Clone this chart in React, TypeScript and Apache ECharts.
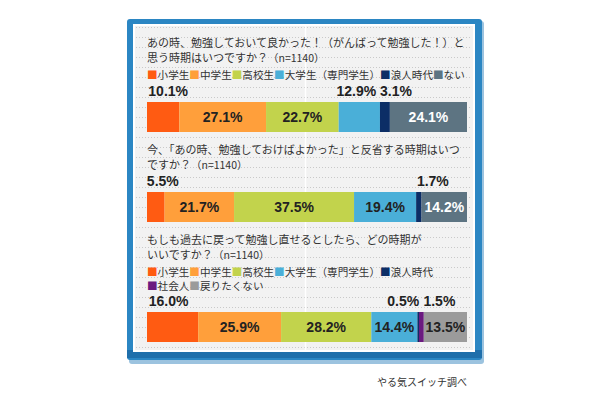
import React, { useEffect, useRef } from "react";
import * as echarts from "echarts";

// ---------- data ----------
const q1Title = ["あの時、勉強しておいて良かった！（がんばって勉強した！）と", "思う時期はいつですか？"];
const q2Title = ["今、「あの時、勉強しておけばよかった」と反省する時期はいつ", "ですか？"];
const q3Title = ["もしも過去に戻って勉強し直せるとしたら、どの時期が", "いいですか？"];
const sampleNote = "（n=1140）";

const q1Categories = ["小学生", "中学生", "高校生", "大学生（専門学生）", "浪人時代", "ない"];
const q1Values = [10.1, 27.1, 22.7, 12.9, 3.1, 24.1];

const q2Categories = ["小学生", "中学生", "高校生", "大学生（専門学生）", "浪人時代", "ない"];
const q2Values = [5.5, 21.7, 37.5, 19.4, 1.7, 14.2];

const q3Categories = ["小学生", "中学生", "高校生", "大学生（専門学生）", "浪人時代", "社会人", "戻りたくない"];
const q3Values = [16.0, 25.9, 28.2, 14.4, 0.5, 1.5, 13.5];

const sourceText = "やる気スイッチ調べ";

// ---------- styles ----------
const COLORS: Record<string, string> = {
  "小学生": "#FF5B12",
  "中学生": "#FF9F3B",
  "高校生": "#C2D34C",
  "大学生（専門学生）": "#4AAFD8",
  "浪人時代": "#0C2E66",
  "ない": "#5D7482",
  "社会人": "#6B1A80",
  "戻りたくない": "#9B9B9B",
};

// label placement per segment: [position, dx, color]
type LabelStyle = [string, number, string];
const q1Labels: LabelStyle[] = [
  ["top", 5, "#222"], ["inside", 0, "#222"], ["inside", 0, "#222"],
  ["top", -3, "#222"], ["top", 11, "#222"], ["inside", 0, "#fff"],
];
const q2Labels: LabelStyle[] = [
  ["top", 7, "#222"], ["inside", 0, "#222"], ["inside", 0, "#222"],
  ["inside", 0, "#222"], ["top", 14, "#222"], ["inside", 0, "#fff"],
];
const q3Labels: LabelStyle[] = [
  ["top", -4, "#222"], ["inside", 0, "#222"], ["inside", 0, "#222"],
  ["inside", 0, "#222"], ["top", -15, "#222"], ["top", 18, "#222"], ["inside", 0, "#222"],
];

const CJK = '"Noto Sans CJK JP", "Noto Sans", sans-serif';
const NUM = '"Liberation Sans", Arial, sans-serif';

const BAR_LEFT = 147;
const BAR_WIDTH = 320;
const gridTops = [102, 192, 312];
const BAR_H = 30;

function buildSeries(cats: string[], vals: number[], labels: LabelStyle[], g: number) {
  return cats.map((c, i) => ({
    type: "bar",
    name: c,
    stack: "s" + g,
    xAxisIndex: g,
    yAxisIndex: g,
    barWidth: "100%",
    data: [vals[i]],
    itemStyle: { color: COLORS[c] },
    label: {
      show: true,
      position: labels[i][0],
      distance: 4,
      offset: [labels[i][1], 0],
      color: labels[i][2],
      fontFamily: NUM,
      fontWeight: "bold",
      fontSize: 14,
      formatter: (p: any) => Number(p.value).toFixed(1) + "%",
    },
    labelLine: labels[i][0] === "top" ? { show: true, lineStyle: { color: "#aaa", width: 1 } } : { show: false },
  }));
}

const LEG_FS = 10.6;
function legendRich(cats: string[]) {
  const rich: Record<string, any> = {};
  cats.forEach((c, i) => {
    rich["k" + i] = { fill: COLORS[c], fontSize: LEG_FS, fontFamily: CJK, lineHeight: 12 };
  });
  rich.t = { fill: "#333", fontSize: LEG_FS, fontFamily: CJK, lineHeight: 12 };
  return rich;
}
function legendText(cats: string[], idx: number[]) {
  return idx.map((i) => `{k${i}|■}{t|${cats[i]}}`).join("");
}

function titleText(lines: string[], x: number, y: number) {
  return [
    {
      type: "text",
      x,
      y,
      style: {
        text: `{a|${lines[0]}}`,
        textVerticalAlign: "middle",
        rich: { a: { fill: "#333", fontSize: 11, fontFamily: CJK, lineHeight: 12 } },
      },
    },
    {
      type: "text",
      x,
      y: y + 15,
      style: {
        text: `{a|${lines[1]}}{b|${sampleNote}}`,
        textVerticalAlign: "middle",
        rich: {
          a: { fill: "#333", fontSize: 11, fontFamily: CJK, lineHeight: 12 },
          b: { fill: "#333", fontSize: 10.5, fontFamily: CJK, lineHeight: 12 },
        },
      },
    },
  ];
}

export default function App() {
  const ref = useRef<HTMLDivElement>(null);
  useEffect(() => {
    if (!ref.current) return;
    const chart = echarts.init(ref.current, null, { renderer: "svg" });

    const dotted: any[] = [];
    for (let y = 27; y <= 347; y += 10) {
      dotted.push({
        type: "line",
        shape: { x1: 136, y1: y + 0.5, x2: 472, y2: y + 0.5 },
        style: { stroke: "#c9c9c9", lineWidth: 1, lineDash: [1, 2] },
        silent: true,
      });
    }

    const graphic: any[] = [
      { type: "rect", shape: { x: 129, y: 21, width: 355, height: 343, r: 3 }, style: { fill: "#9cc3df" }, silent: true },
      { type: "rect", shape: { x: 127, y: 19, width: 355, height: 341, r: 3 }, style: { fill: "#2B86C3" }, silent: true },
      { type: "rect", shape: { x: 127, y: 350, width: 355, height: 8 }, style: { fill: "#1F6FAB" }, silent: true },
      { type: "rect", shape: { x: 134, y: 25, width: 340, height: 326 }, style: { fill: "#f2f2f2", stroke: "#ffffff", lineWidth: 2 }, silent: true },
      ...dotted,
      { type: "line", shape: { x1: 305.5, y1: 26, x2: 305.5, y2: 350 }, style: { stroke: "#ffffff", lineWidth: 1.5 }, silent: true },
      ...titleText(q1Title, 147, 42),
      { type: "text", x: 147, y: 74, style: { text: legendText(q1Categories, [0, 1, 2, 3, 4, 5]), rich: legendRich(q1Categories), textVerticalAlign: "middle" } },
      ...titleText(q2Title, 147, 149),
      ...titleText(q3Title, 147, 239),
      { type: "text", x: 147, y: 271, style: { text: legendText(q3Categories, [0, 1, 2, 3, 4]), rich: legendRich(q3Categories), textVerticalAlign: "middle" } },
      { type: "text", x: 147, y: 285, style: { text: legendText(q3Categories, [5, 6]), rich: legendRich(q3Categories), textVerticalAlign: "middle" } },
      { type: "text", x: 467, y: 381, style: { text: sourceText, fill: "#333", fontSize: 10, fontFamily: CJK, textAlign: "right", textVerticalAlign: "middle" } },
    ];

    const grids = gridTops.map((t) => ({ left: BAR_LEFT, width: BAR_WIDTH, top: t, height: BAR_H, containLabel: false }));
    const xAxes = gridTops.map((_, i) => ({ type: "value", gridIndex: i, min: 0, max: 100, show: false }));
    const yAxes = gridTops.map((_, i) => ({ type: "category", gridIndex: i, data: ["q" + (i + 1)], show: false }));

    chart.setOption({
      animation: false,
      backgroundColor: "#ffffff",
      grid: grids,
      xAxis: xAxes,
      yAxis: yAxes,
      graphic: { elements: graphic },
      series: [
        ...buildSeries(q1Categories, q1Values, q1Labels, 0),
        ...buildSeries(q2Categories, q2Values, q2Labels, 1),
        ...buildSeries(q3Categories, q3Values, q3Labels, 2),
      ],
    });
    return () => chart.dispose();
  }, []);
  return <div ref={ref} style={{ position: "fixed", left: 0, top: 0, width: 610, height: 400 }} />;
}
